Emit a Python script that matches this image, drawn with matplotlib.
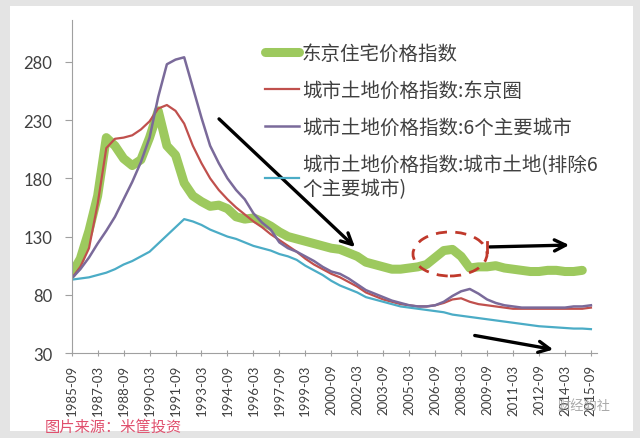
"""
东京住宅价格指数 vs 城市土地价格指数 (1985-09 ~ 2015-09)，半年度。
"""

import numpy as np
import matplotlib

matplotlib.use("Agg")
import matplotlib.pyplot as plt
from matplotlib.lines import Line2D
from matplotlib.patches import Ellipse, Rectangle

plt.rcParams["font.family"] = ["Lato", "Noto Sans CJK SC", "DejaVu Sans"]

# ── 数据（半年度，读图估计）────────────────────────────────────────────────
tick_labels = [
    "1985-09", "1987-03", "1988-09", "1990-03", "1991-09", "1993-03", "1994-09",
    "1996-03", "1997-09", "1999-03", "2000-09", "2002-03", "2003-09", "2005-03",
    "2006-09", "2008-03", "2009-09", "2011-03", "2012-09", "2014-03", "2015-09",
]

tokyo_house = [
    98, 111, 135, 165, 215, 208, 197, 191, 196, 215,
    238, 208, 200, 176, 165, 160, 156, 157, 154, 147,
    145, 146, 143, 139, 134, 130, 128, 126, 124, 122,
    120, 119, 116, 113, 108, 106, 104, 102, 102, 103,
    104, 106, 112, 118, 119, 113, 103, 104, 104, 105,
    103, 102, 101, 100, 100, 101, 101, 100, 100, 101,
]

land_tokyo = [
    94, 104, 120, 158, 206, 214, 215, 217, 222, 229,
    240, 243, 238, 227, 208, 193, 180, 170, 162, 155,
    149, 143, 138, 132, 127, 122, 117, 111, 106, 102,
    98, 95, 91, 87, 82, 79, 76, 74, 72, 71,
    70, 70, 71, 73, 76, 77, 74, 72, 71, 70,
    69, 68, 68, 68, 68, 68, 68, 68, 68, 68, 69,
]

land_6city = [
    94, 102, 112, 124, 135, 147, 162, 177, 194, 215,
    250, 278, 282, 284, 258, 232, 208, 193, 180, 170,
    162, 150, 142, 136, 125, 120, 117, 113, 109, 104,
    100, 98, 94, 89, 84, 81, 78, 75, 73, 71,
    70, 70, 71, 74, 79, 83, 85, 81, 76, 73,
    71, 70, 69, 69, 69, 69, 69, 69, 70, 70, 71,
]

land_other = [
    93, 94, 95, 97, 99, 102, 106, 109, 113, 117,
    124, 131, 138, 145, 143, 140, 136, 133, 130, 128,
    125, 122, 120, 118, 115, 113, 110, 105, 101, 97,
    92, 88, 85, 82, 78, 76, 74, 72, 70, 69,
    68, 67, 66, 65, 63, 62, 61, 60, 59, 58,
    57, 56, 55, 54, 53, 52.5, 52, 51.5, 51, 51, 50.5,
]

labels = [
    "东京住宅价格指数",
    "城市土地价格指数:东京圈",
    "城市土地价格指数:6个主要城市",
    "城市土地价格指数:城市土地(排除6\n个主要城市)",
]

TXT = "#404040"

fig = plt.figure(figsize=(6.4, 4.39), dpi=100, facecolor="#e4e4e4")
# 白色底板（放在坐标轴下面）
fig.patches.append(Rectangle((10 / 640, 7 / 439), 623 / 640, 425 / 439,
                             transform=fig.transFigure, facecolor="white",
                             edgecolor="none", zorder=-5))

ax = fig.add_axes([0.112, 0.1936, 0.8208, 0.7585])
ax.set_facecolor("none")

ax.plot(np.arange(len(tokyo_house)), tokyo_house, color="#9dc95e", lw=6.5,
        solid_capstyle="round", solid_joinstyle="round", label=labels[0])
ax.plot(np.arange(len(land_tokyo)), land_tokyo, color="#c0504d", lw=1.6, label=labels[1])
ax.plot(np.arange(len(land_6city)), land_6city, color="#7a6a9a", lw=1.8, label=labels[2])
ax.plot(np.arange(len(land_other)), land_other, color="#4bacc6", lw=1.6, label=labels[3])

ax.set_xlim(0, 60.7)
ax.set_ylim(30, 316)
ax.set_yticks(np.arange(30, 281, 50))
ax.set_xticks(np.arange(0, 61, 3))
ax.set_xticklabels(tick_labels, rotation=90, fontsize=9.5, color=TXT)
ax.tick_params(axis="y", labelsize=12, colors=TXT, length=5, pad=9, color="#a0a0a0")
ax.tick_params(axis="x", length=5, direction="inout", pad=5, color="#a0a0a0")
for side in ("top", "right"):
    ax.spines[side].set_visible(False)
for side in ("left", "bottom"):
    ax.spines[side].set_color("#a0a0a0")

leg = fig.legend(loc="upper left", bbox_to_anchor=(265 / 640, 1 - 44 / 439),
                 frameon=False, fontsize=14, handlelength=1.75, handletextpad=0.15,
                 labelspacing=0.82, borderpad=0, borderaxespad=0)
for t in leg.get_texts():
    t.set_color(TXT)
    t.set_family(["Noto Sans CJK SC", "DejaVu Sans"])

# ── 标注 ──────────────────────────────────────────────────────────────────
arrow = dict(arrowstyle="->", color="black", lw=2.4, mutation_scale=20)
ax.annotate("", xy=(357, 189), xytext=(217, 321), xycoords="figure pixels",
            textcoords="figure pixels", arrowprops=arrow)
ax.annotate("", xy=(572, 193), xytext=(487, 191), xycoords="figure pixels",
            textcoords="figure pixels", arrowprops=arrow)
ax.annotate("", xy=(556, 88), xytext=(472, 103), xycoords="figure pixels",
            textcoords="figure pixels", arrowprops=arrow)
fig.patches.append(Ellipse((450 / 640, 184 / 439), 74 / 640, 44 / 439,
                           transform=fig.transFigure, fill=False,
                           edgecolor="#c0392b", lw=2, ls=(0, (4, 3)), zorder=5))
# 箭头起点的小红竖线
fig.lines.append(Line2D([487 / 640, 487 / 640], [1 - 243 / 439, 1 - 253 / 439],
                        transform=fig.transFigure, color="#c0392b", lw=2))

fig.text(45 / 640, 1 - 427 / 439, "图片来源：米筐投资", color="#e0506e",
         fontsize=11, va="center", family=["Noto Sans CJK SC"])
fig.text(558 / 640, 1 - 406 / 439, "财经豹社", color="#9a9a9a", alpha=0.85,
         fontsize=9.5, va="center", family=["Noto Sans CJK SC"])

fig.savefig("out.png", dpi=100, facecolor=fig.get_facecolor())
